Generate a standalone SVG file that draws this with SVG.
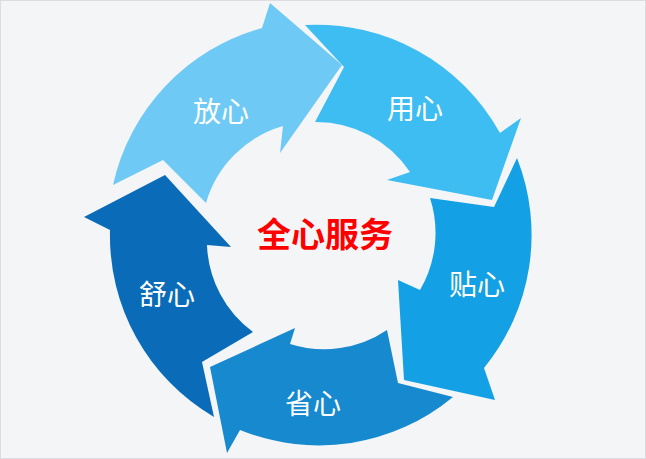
<svg xmlns="http://www.w3.org/2000/svg" width="646" height="459" viewBox="0 0 646 459">
<style>
.lbl{font-family:"Noto Sans CJK SC",sans-serif;font-size:28px;fill:#fff;text-anchor:middle;dominant-baseline:central}
.seg{stroke:none}
</style>
<rect x="0" y="0" width="646" height="459" fill="#f4f5f7"/>
<rect x="0.5" y="0.5" width="645" height="458" fill="none" stroke="#dcdde0"/>
<g id="connectors">
<g id="fangxin"><path class="seg" fill="#6ec9f5" d="M113,185 A210,210 0 0 1 262,28 L270,3 L342,65 L280,153 L283,126 A113,113 0 0 0 206,203 L163,160 Z"/><text class="lbl" x="221" y="110">放心</text></g>
<g id="yongxin"><path class="seg" fill="#3dbdf2" d="M305,25 A210,210 0 0 1 500,133 L521,118 L492,200 L387,180 L410,172 A113,113 0 0 0 315,122 L344,67 Z"/><text class="lbl" x="415" y="107">用心</text></g>
<g id="tiexin"><path class="seg" fill="#14a0e4" d="M517,158 A210,210 0 0 1 484,368 L495,400 L404,380 L398,280 L420,290 A113,113 0 0 0 430,198 L494,207 Z"/><text class="lbl" x="477" y="283">贴心</text></g>
<g id="shengxin"><path class="seg" fill="#1689cf" d="M453,397 A210,210 0 0 1 240,430 L227,453 L210,367 L295,328 L290,344 A113,113 0 0 0 387,330 L398,383 Z"/><text class="lbl" x="313" y="402">省心</text></g>
<g id="shuxin"><path class="seg" fill="#0a6cb8" d="M214,417 A210,210 0 0 1 110,230 L84,217 L165,175 L231,247 L207,245 A113,113 0 0 0 253,332 L202,362 Z"/><text class="lbl" x="167" y="293">舒心</text></g>
</g>
<g id="center"><text x="325" y="232" font-family="'Noto Sans CJK SC',sans-serif" font-weight="bold" font-size="34" fill="#ff0000" text-anchor="middle" dominant-baseline="central">全心服务</text></g>
</svg>
